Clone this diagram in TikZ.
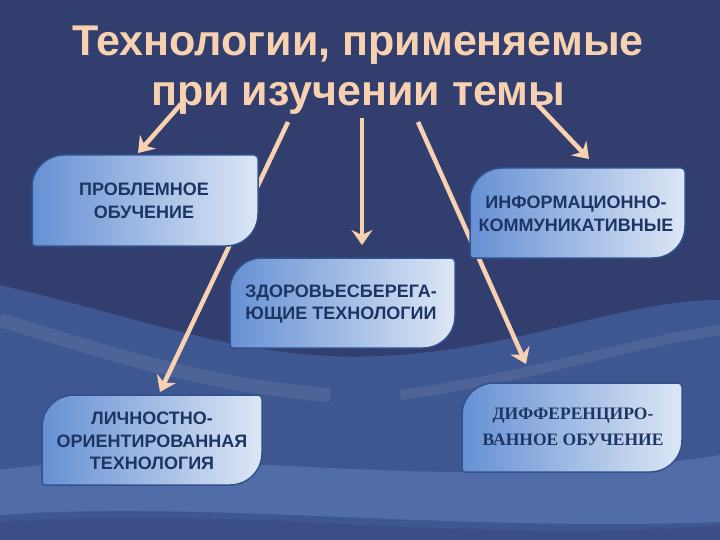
\documentclass[tikz,border=0pt]{standalone}
\usepackage{fontspec}
\setmainfont{Liberation Sans}
\newfontfamily\timesfont{Liberation Serif}
\usetikzlibrary{arrows.meta}

\definecolor{navybg}{HTML}{323E6E}
\definecolor{wavemid}{HTML}{4A6CAE}
\definecolor{wavelight}{HTML}{79A3E0}
\definecolor{peach}{HTML}{F8D2B0}
\definecolor{boxdark}{HTML}{6690D4}
\definecolor{boxlight}{HTML}{DDE7F5}
\definecolor{boxedge}{HTML}{2F528F}
\definecolor{boxtext}{HTML}{1C3564}

\tikzset{
	techbox/.style={draw=boxedge, line width=1.5pt, left color=boxdark, middle color=boxlight!75!boxdark, right color=boxlight},
	techtext/.style={text=boxtext, font=\fontsize{18}{22.5}\selectfont\bfseries, align=center},
	techarrow/.style={draw=peach, line width=4.5pt, -{Stealth[length=15pt,width=21pt,inset=5pt]}},
}

% box with big rounded corners top left and bottom right
\newcommand{\techshape}[4]{%
	\draw[techbox] (#1+60,#2) [rounded corners=4pt] -- (#3,#2) [rounded corners=32pt] -- (#3,#4)
		[rounded corners=3pt] -- (#1,#4) [rounded corners=32pt] -- (#1,#2) -- cycle;}

\begin{document}
\begin{tikzpicture}[x=1pt, y=-1pt]
	
	\useasboundingbox (0,0) rectangle (720,540);
	\fill[navybg] (0,0) rectangle (720,540);
	
	% background waves
	\fill[wavemid, opacity=.55] (0,285) .. controls (150,320) and (250,362) .. (380,356)
		.. controls (520,350) and (620,300) .. (720,300) -- (720,540) -- (0,540) -- cycle;
	\fill[wavelight, opacity=.30] (0,470) .. controls (200,440) and (450,500) .. (720,455)
		-- (720,522) .. controls (450,532) and (200,500) .. (0,515) -- cycle;
	\fill[navybg, opacity=.30] (0,522) .. controls (250,505) and (470,545) .. (720,525)
		-- (720,540) -- (0,540) -- cycle;
	\draw[white, opacity=.08, line width=14pt] (0,320) .. controls (100,350) and (200,385) .. (330,395);
	\draw[white, opacity=.08, line width=10pt] (400,395) .. controls (520,380) and (640,340) .. (720,330);
	
	\node[text=peach, font=\fontsize{43}{50}\selectfont\bfseries, align=center] (title) at (358,70)
		{Технологии, применяемые\\при изучении темы};
	
	\coordinate (s1) at (181,104);
	\coordinate (s2) at (288,122);
	\coordinate (s3) at (362,118);
	\coordinate (s4) at (418,122);
	\coordinate (s5) at (537,104);
	
	\coordinate (t1) at (138,153);
	\coordinate (t2) at (160,392);
	\coordinate (t3) at (362,245);
	\coordinate (t4) at (526,364);
	\coordinate (t5) at (589,159);
	
	\draw[techarrow] (s1) -- (t1);
	\draw[techarrow] (s2) -- (t2);
	\draw[techarrow] (s3) -- (t3);
	\draw[techarrow] (s4) -- (t4);
	\draw[techarrow] (s5) -- (t5);
	
	\techshape{32}{155}{258}{246}
	\techshape{470}{168}{685}{258}
	\techshape{230}{258}{455}{348}
	\techshape{42}{395}{262}{485}
	\techshape{462}{383}{682}{472}
	
	\node[techtext] (prob) at (144,201) {ПРОБЛЕМНОЕ\\ОБУЧЕНИЕ};
	\node[techtext] (info) at (576,214) {ИНФОРМАЦИОННО-\\КОММУНИКАТИВНЫЕ};
	\node[techtext] (zdorov) at (341,304) {ЗДОРОВЬЕСБЕРЕГА-\\ЮЩИЕ ТЕХНОЛОГИИ};
	\node[techtext] (lichn) at (152,441) {ЛИЧНОСТНО-\\ОРИЕНТИРОВАННАЯ\\ТЕХНОЛОГИЯ};
	\node[techtext, font=\fontsize{17.5}{26}\selectfont\timesfont\bfseries] (diff) at (573,427)
		{ДИФФЕРЕНЦИРО-\\ВАННОЕ ОБУЧЕНИЕ};

\end{tikzpicture}
\end{document}
